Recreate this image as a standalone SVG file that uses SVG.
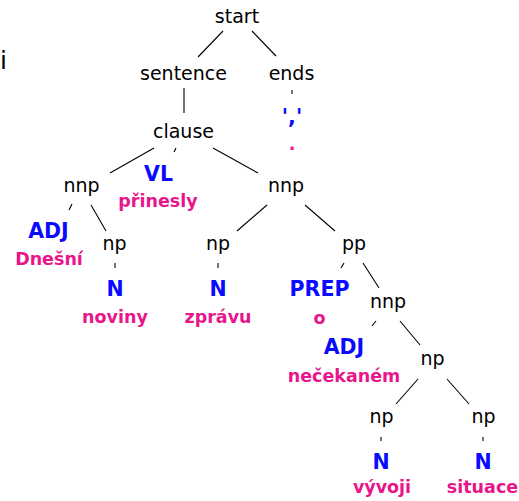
<svg xmlns="http://www.w3.org/2000/svg" width="519" height="501" viewBox="0 0 519 501">
<style>
.cat{font-family:"DejaVu Sans",sans-serif;font-size:19px;fill:#000;text-anchor:middle}
.pos{font-family:"DejaVu Sans",sans-serif;font-weight:bold;font-size:20.5px;fill:#0a0aff;text-anchor:middle}
.word{font-family:"DejaVu Sans",sans-serif;font-weight:bold;font-size:17.5px;fill:#e8168b;text-anchor:middle}
#edges line{stroke:#000;stroke-width:1.1}
</style>
<rect width="519" height="501" fill="#fff"/>
<text x="0" y="69" style="font-family:'DejaVu Sans',sans-serif;font-size:25px">i</text>
<g id="edges">
<line x1="223" y1="31" x2="198" y2="57"/>
<line x1="252" y1="31" x2="276" y2="56"/>
<line x1="184" y1="88" x2="184" y2="113"/>
<line x1="292" y1="90" x2="292" y2="94"/>
<line x1="154" y1="148" x2="110" y2="173"/>
<line x1="176" y1="148" x2="174" y2="152"/>
<line x1="213" y1="148" x2="258" y2="173"/>
<line x1="72" y1="204" x2="69" y2="210"/>
<line x1="91" y1="205" x2="106" y2="231"/>
<line x1="267" y1="205" x2="237" y2="231"/>
<line x1="305" y1="205" x2="335" y2="231"/>
<line x1="115" y1="263" x2="115" y2="268"/>
<line x1="218" y1="263" x2="218" y2="268"/>
<line x1="344" y1="263" x2="341" y2="268"/>
<line x1="363" y1="263" x2="379" y2="288"/>
<line x1="376" y1="321" x2="372" y2="326"/>
<line x1="400" y1="321" x2="420" y2="345"/>
<line x1="418" y1="379" x2="396" y2="404"/>
<line x1="447" y1="379" x2="469" y2="404"/>
<line x1="381" y1="437" x2="381" y2="441"/>
<line x1="483" y1="437" x2="483" y2="441"/>
</g>
<g id="start"><text class="cat" x="237" y="23">start</text></g>
<g id="sentence"><text class="cat" x="183.5" y="80">sentence</text></g>
<g id="ends"><text class="cat" x="291.5" y="80">ends</text></g>
<g id="ends-pos"><text class="pos" x="292" y="124">','</text></g>
<g id="ends-word"><text class="word" x="292" y="150">.</text></g>
<g id="clause"><text class="cat" x="183.5" y="138">clause</text></g>
<g id="nnp1"><text class="cat" x="81.5" y="192">nnp</text></g>
<g id="vl"><text class="pos" x="158.5" y="181">VL</text><text class="word" x="158" y="207">přinesly</text></g>
<g id="nnp2"><text class="cat" x="286" y="192">nnp</text></g>
<g id="adj1"><text class="pos" x="48.5" y="238">ADJ</text><text class="word" x="49" y="265">Dnešní</text></g>
<g id="np1"><text class="cat" x="114.5" y="250">np</text></g>
<g id="n1"><text class="pos" x="115" y="296">N</text><text class="word" x="115" y="323">noviny</text></g>
<g id="np2"><text class="cat" x="218" y="250">np</text></g>
<g id="n2"><text class="pos" x="218" y="296">N</text><text class="word" x="218" y="323">zprávu</text></g>
<g id="pp"><text class="cat" x="354" y="250">pp</text></g>
<g id="prep"><text class="pos" x="319.5" y="296">PREP</text><text class="word" x="319.5" y="324">o</text></g>
<g id="nnp3"><text class="cat" x="388" y="308">nnp</text></g>
<g id="adj2"><text class="pos" x="344" y="354">ADJ</text><text class="word" x="344" y="382">nečekaném</text></g>
<g id="np3"><text class="cat" x="432.5" y="365">np</text></g>
<g id="np4"><text class="cat" x="381.5" y="423">np</text></g>
<g id="n3"><text class="pos" x="381" y="469">N</text><text class="word" x="382" y="493">vývoji</text></g>
<g id="np5"><text class="cat" x="483.5" y="423">np</text></g>
<g id="n4"><text class="pos" x="483" y="469">N</text><text class="word" x="482.5" y="493">situace</text></g>
</svg>
